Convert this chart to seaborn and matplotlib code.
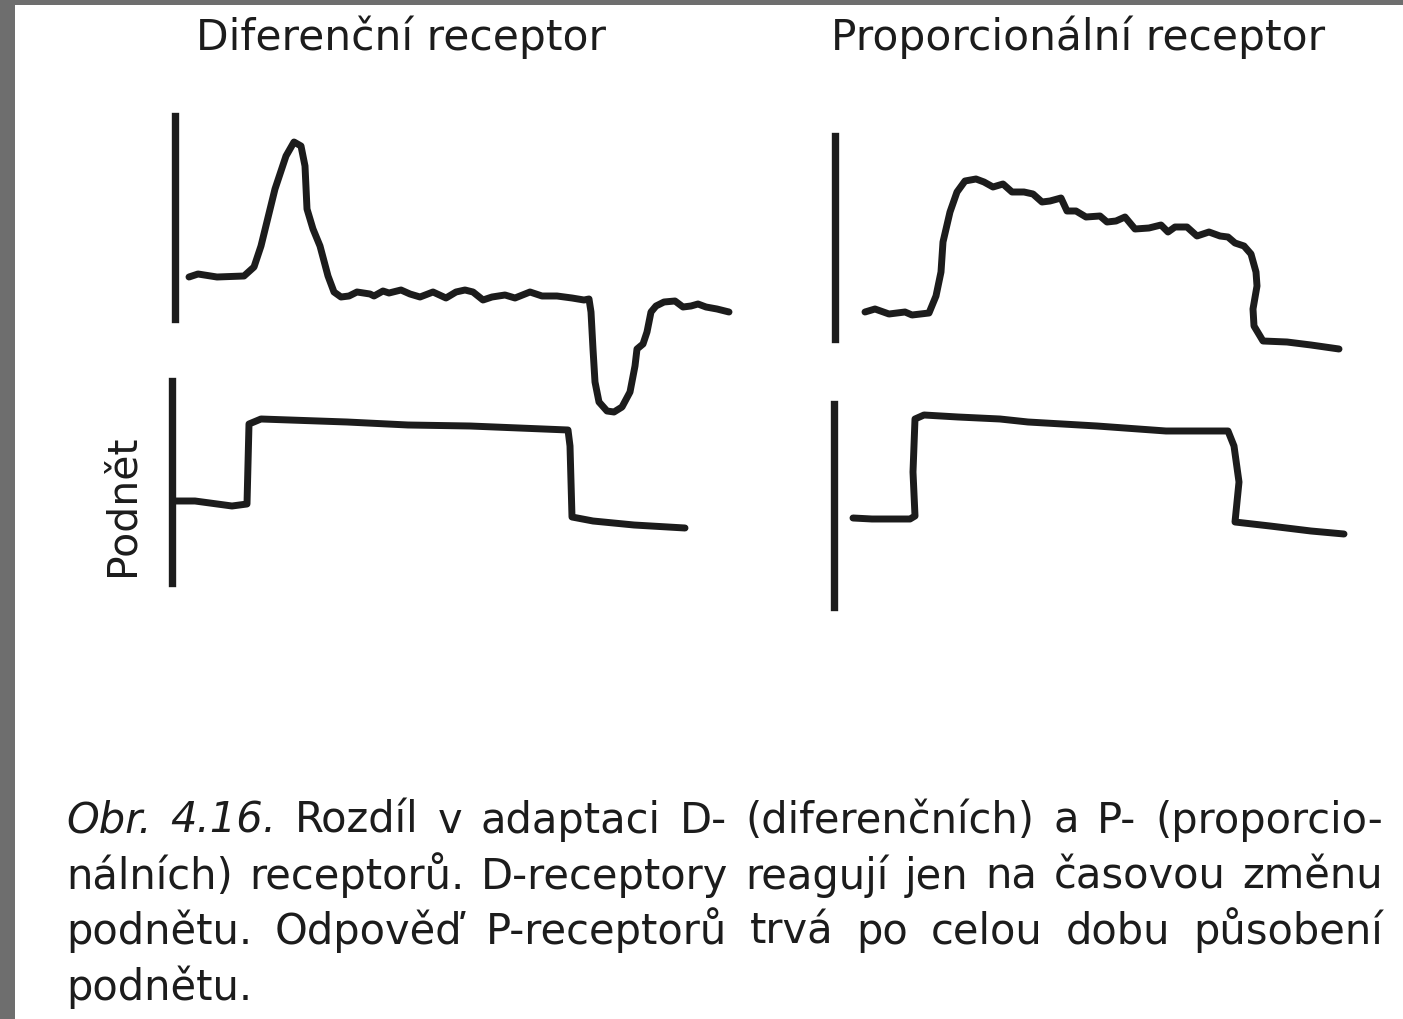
import matplotlib
matplotlib.use("Agg")
import matplotlib.pyplot as plt
from matplotlib.patches import Rectangle
import seaborn as sns

# ---- traces (time in arbitrary units, amplitude in arbitrary units) ----
d_time = [14, 23, 42, 69, 79, 86, 100, 111, 119, 126, 130, 132, 138, 145, 153, 159,
          166, 174, 182, 195, 199, 208, 214, 226, 235, 245, 258, 271, 281, 290, 298,
          308, 317, 330, 340, 355, 367, 382, 397, 409, 414, 416, 418, 420, 424, 432,
          439, 447, 455, 460, 462, 468, 472, 476, 481, 489, 500, 508, 516, 523, 531,
          542, 554]
d_resp = [42, 45, 42, 43, 52, 73, 130, 163, 177, 173, 153, 110, 90, 73, 43, 27,
          22, 23, 27, 25, 23, 28, 26, 29, 25, 22, 27, 21, 27, 29, 27,
          19, 22, 24, 21, 27, 23, 23, 21, 19, 20, 7, -30, -63, -83, -92,
          -93, -88, -73, -47, -30, -25, -13, 7, 13, 17, 18, 12, 13, 15, 12,
          10, 7]

p_time = [30, 40, 54, 70, 77, 94, 101, 106, 108, 115, 122, 130, 141, 149, 158, 168,
          177, 189, 198, 207, 215, 226, 232, 241, 251, 265, 272, 281, 290, 300, 314,
          326, 333, 340, 352, 362, 374, 385, 393, 400, 409, 416, 421, 422, 418, 419,
          428, 452, 476, 504]
p_resp = [27, 30, 25, 27, 24, 26, 43, 67, 97, 127, 147, 158, 160, 157, 152, 155,
          147, 147, 145, 137, 138, 141, 128, 128, 122, 123, 117, 118, 122, 110, 111,
          114, 107, 112, 112, 103, 107, 103, 102, 96, 93, 85, 67, 53, 30, 13,
          -2, -3, -6, -10]

d_stim_time = [3, 23, 60, 75, 77, 89, 175, 236, 298, 396, 398, 400, 421, 462, 513]
d_stim = [82, 82, 77, 79, 159, 164, 161, 158, 157, 153, 137, 66, 62, 58, 55]

p_stim_time = [19, 38, 76, 81, 79, 81, 90, 124, 166, 194, 263, 332, 394, 400, 405,
               401, 436, 477, 510]
p_stim = [89, 88, 88, 91, 135, 188, 192, 190, 188, 185, 181, 176, 176, 161, 125,
          85, 81, 76, 73]

# length of the calibration bar drawn beside each trace
bar_lengths = [203, 203, 202, 203]

titles = ["Diferenční receptor", "Proporcionální receptor"]
stim_label = "Podnět"
caption_lines = [
    "Obr. 4.16. Rozdíl v adaptaci D- (diferenčních) a P- (proporcio-",
    "nálních) receptorů. D-receptory reagují jen na časovou změnu",
    "podnětu. Odpověď P-receptorů trvá po celou dobu působení",
    "podnětu.",
]
italic_words = 2  # "Obr. 4.16." is set in italics

# ---- styling ----
sns.set_style("white")
plt.rcParams["font.family"] = ["DejaVu Sans"]
INK = "#1c1c1c"
W, H = 1403, 1020

fig = plt.figure(figsize=(W / 100, H / 100), dpi=100)
fig.patch.set_facecolor("#6e6e6e")
fig.add_artist(Rectangle((15 / W, 0), 1 - 15 / W, (H - 6) / H,
                         transform=fig.transFigure, facecolor="white",
                         edgecolor="none", zorder=0))


def add_trace(ox, oy, t, v, bar_len):
    vmin, vmax, span = -125, 235, 600
    ax = fig.add_axes([ox / W, (H - oy + vmin) / H, span / W, (vmax - vmin) / H])
    ax.patch.set_alpha(0)
    ax.set_xlim(0, span)
    ax.set_ylim(vmin, vmax)
    sns.lineplot(x=t, y=v, sort=False, estimator=None, ax=ax, color=INK,
                 linewidth=5.0, solid_capstyle="round", solid_joinstyle="round",
                 clip_on=False)
    for side in ("top", "right", "bottom"):
        ax.spines[side].set_visible(False)
    sp = ax.spines["left"]
    sp.set_bounds(0, bar_len)
    sp.set_linewidth(5.3)
    sp.set_color(INK)
    ax.set_xticks([])
    ax.set_yticks([])
    ax.set_xlabel("")
    ax.set_ylabel("")
    return ax


add_trace(175, 320, d_time, d_resp, bar_lengths[0])
add_trace(835, 340, p_time, p_resp, bar_lengths[1])
add_trace(172, 584, d_stim_time, d_stim, bar_lengths[2])
add_trace(834, 608, p_stim_time, p_stim, bar_lengths[3])

# column headings
for cx, title in zip((401, 1078), titles):
    fig.text(cx / W, 1 - 50 / H, title, ha="center", va="baseline",
             fontsize=30.5, color=INK)

fig.text(134 / W, 1 - 505 / H, stim_label, rotation=90, rotation_mode="anchor",
         ha="center", va="baseline", fontsize=29.5, color=INK)

# justified caption
renderer = fig.canvas.get_renderer()
CAP_FS = 30
left, right = 66, 1383
baselines = [833, 889, 944, 1000]
for li, (line, yb) in enumerate(zip(caption_lines, baselines)):
    words = line.split(" ")
    texts = []
    for wi, word in enumerate(words):
        style = "italic" if (li == 0 and wi < italic_words) else "normal"
        texts.append(fig.text(0, 1 - yb / H, word, fontsize=CAP_FS, style=style,
                              ha="left", va="baseline", color=INK))
    widths = [t.get_window_extent(renderer).width for t in texts]
    justify = li < len(caption_lines) - 1 and len(words) > 1
    gap = (right - left - sum(widths)) / (len(words) - 1) if justify else CAP_FS * 0.45
    x = left
    for t, w in zip(texts, widths):
        t.set_x(x / W)
        x += w + gap

fig.savefig("out.png", dpi=100)
